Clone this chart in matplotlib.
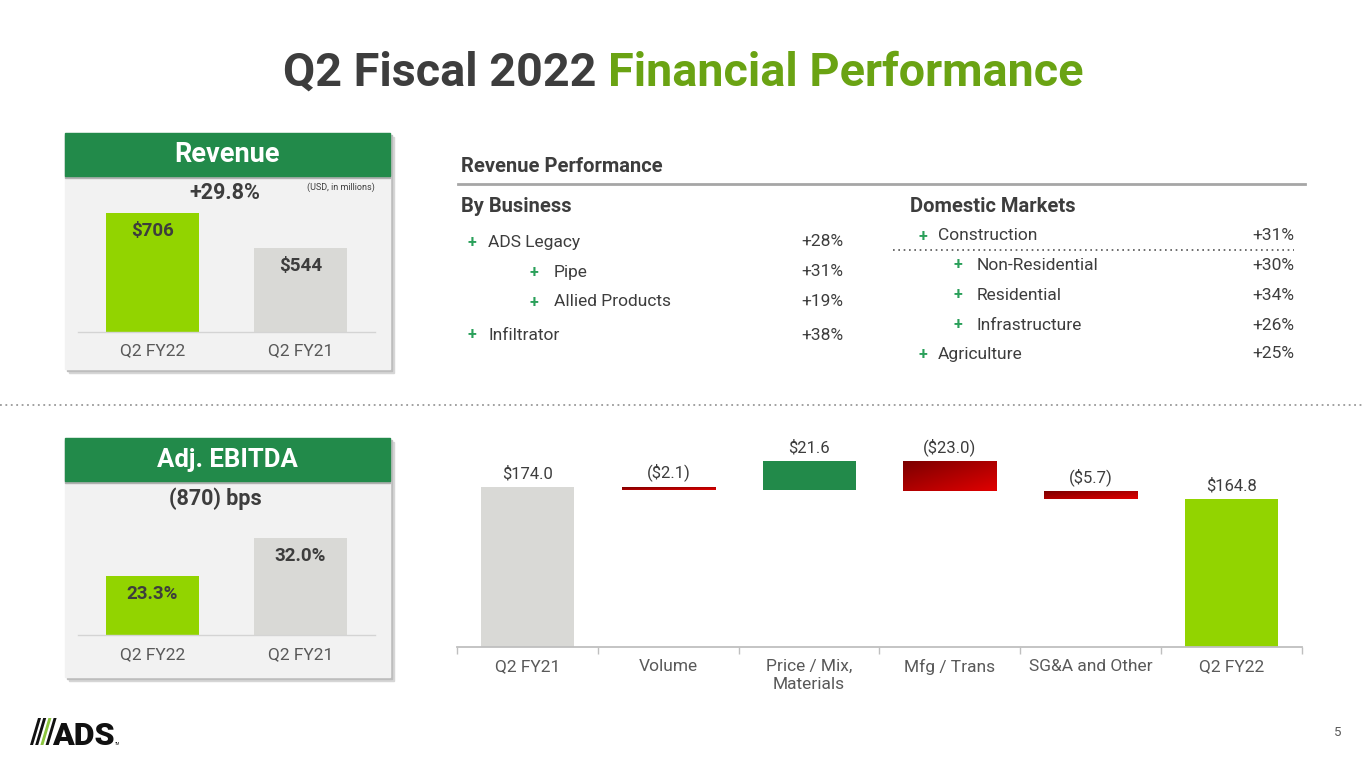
import matplotlib
matplotlib.use("Agg")
import matplotlib.pyplot as plt
import numpy as np
from matplotlib.patches import Rectangle, Polygon
from matplotlib.colors import LinearSegmentedColormap

W, H = 1365, 768
DPI = 100

# ---------------- data ----------------
rev_categories = ["Q2 FY22", "Q2 FY21"]
rev_values = [706, 544]
rev_labels = ["$706", "$544"]
rev_change = "+29.8%"
rev_unit = "(USD, in millions)"

ebitda_categories = ["Q2 FY22", "Q2 FY21"]
ebitda_values = [23.3, 32.0]
ebitda_labels = ["23.3%", "32.0%"]
ebitda_change = "(870) bps"

business_items = ["ADS Legacy", "Pipe", "Allied Products", "Infiltrator"]
business_growth = ["+28%", "+31%", "+19%", "+38%"]
business_level = [0, 1, 1, 0]

market_items = ["Construction", "Non-Residential", "Residential", "Infrastructure", "Agriculture"]
market_growth = ["+31%", "+30%", "+34%", "+26%", "+25%"]
market_level = [0, 1, 1, 1, 0]

wf_categories = ["Q2 FY21", "Volume", "Price / Mix,\nMaterials", "Mfg / Trans", "SG&A and Other", "Q2 FY22"]
wf_values = [174.0, -2.1, 21.6, -23.0, -5.7, 164.8]
wf_labels = ["$174.0", "($2.1)", "$21.6", "($23.0)", "($5.7)", "$164.8"]
wf_is_total = [True, False, False, False, False, True]

# ---------------- style ----------------
FONT = "Roboto"
plt.rcParams["font.family"] = [FONT, "DejaVu Sans"]
DARK = "#3d3d3d"
GTXT = "#595959"
HEAD_GREEN = "#228a4a"
TITLE_GREEN = "#6aa313"
LIME = "#92d400"
BAR_GRAY = "#d9d9d6"
PLUS_GREEN = "#2aa05a"
PANEL_BG = "#f2f2f2"

fig = plt.figure(figsize=(W / DPI, H / DPI), dpi=DPI)
bg = fig.add_axes([0, 0, 1, 1])
bg.set_xlim(0, W)
bg.set_ylim(H, 0)
bg.axis("off")


def px_axes(x0, y0, x1, y1):
    a = fig.add_axes([x0 / W, 1 - y1 / H, (x1 - x0) / W, (y1 - y0) / H])
    a.patch.set_alpha(0)
    return a


# ---------------- title ----------------
renderer = fig.canvas.get_renderer()
t1 = bg.text(0, 86, "Q2 Fiscal 2022", fontsize=30, fontweight="bold", color=DARK, va="baseline", ha="left")
t2 = bg.text(0, 86, "Financial Performance", fontsize=30, fontweight="bold", color=TITLE_GREEN, va="baseline", ha="left")
gap = 12
w1 = t1.get_window_extent(renderer).width
w2 = t2.get_window_extent(renderer).width
fs = 30 * (800 - gap) / (w1 + w2)
t1.set_fontsize(fs)
t2.set_fontsize(fs)
w1 = t1.get_window_extent(renderer).width
w2 = t2.get_window_extent(renderer).width
x_start = 683 - (w1 + gap + w2) / 2
t1.set_x(x_start)
t2.set_x(x_start + w1 + gap)

# ---------------- left panels ----------------
def panel(y0, y1, title, tfs):
    x0, x1 = 65, 390
    bg.add_patch(Rectangle((x0 + 4, y0 + 4), x1 - x0, y1 - y0, color="#d6d6d6", zorder=1))
    bg.add_patch(Rectangle((x0 + 2, y0 + 2), x1 - x0, y1 - y0, color="#bdbdbd", zorder=1.5))
    bg.add_patch(Rectangle((x0, y0), x1 - x0, y1 - y0, color=PANEL_BG, zorder=2))
    bg.add_patch(Rectangle((x0, y0 + 2), x1 - x0, 43, color="#b0b0b0", zorder=2.5))
    bg.add_patch(Rectangle((x0, y0), x1 - x0, 43, color=HEAD_GREEN, zorder=3))
    bg.text((x0 + x1) / 2, y0 + 22, title, color="white", fontsize=tfs, fontweight="bold",
            ha="center", va="center", zorder=4)


panel(133, 369, "Revenue", 19.5)
panel(438, 677, "Adj. EBITDA", 18.5)

bg.text(225, 193, rev_change, fontsize=15.5, fontweight="bold", color=DARK, ha="center", va="center", zorder=4)
bg.text(341, 187, rev_unit, fontsize=6.5, color=DARK, ha="center", va="center", zorder=4)
bg.text(215, 499, ebitda_change, fontsize=15.5, fontweight="bold", color=DARK, ha="center", va="center", zorder=4)


def small_bars(ax, cats, vals, labels, ymin, scale, top_px, base_px):
    colors = [LIME, BAR_GRAY]
    x = np.arange(len(cats))
    ax.bar(x, vals, width=93 / 148, color=colors, bottom=0, zorder=2)
    for xi, v, lab in zip(x, vals, labels):
        ax.annotate(lab, (xi, v), xytext=(0, -6.5), textcoords="offset points", ha="center", va="top",
                    fontsize=13.5, fontweight="bold", color=DARK)
    ax.set_xlim(-(152.5 - 78) / 148, 1 + (375 - 300.5) / 148)
    ax.set_ylim(ymin, ymin + (base_px - top_px) / scale)
    ax.set_xticks(x)
    ax.set_xticklabels(cats, fontsize=12.5, color=GTXT)
    ax.tick_params(axis="x", length=0, pad=8.5)
    ax.set_yticks([])
    for s in ["top", "left", "right"]:
        ax.spines[s].set_visible(False)
    ax.spines["bottom"].set_color("#d4d4d4")
    ax.spines["bottom"].set_linewidth(1)


ax_rev = px_axes(78, 200, 375, 331.5)
small_bars(ax_rev, rev_categories, rev_values, rev_labels, 153, 0.2141, 200, 331.5)
ax_eb = px_axes(78, 510, 375, 635)
small_bars(ax_eb, ebitda_categories, ebitda_values, ebitda_labels, 9.7, 4.368, 510, 635)

# ---------------- dotted separator ----------------
bg.plot([0, W], [405, 405], color="#9a9a9a", lw=1.3, ls=(0, (1, 2)))

# ---------------- revenue performance ----------------
bg.text(461, 167, "Revenue Performance", fontsize=14.5, fontweight="bold", color=DARK, va="center")
bg.plot([458, 1305], [184, 184], color="#a6a6a6", lw=2)
bg.text(461, 206, "By Business", fontsize=14.5, fontweight="bold", color=DARK, va="center")
bg.text(910, 206, "Domestic Markets", fontsize=14.5, fontweight="bold", color=DARK, va="center")

bus_rows = [242, 272, 302, 335]
for name, g, lvl, y in zip(business_items, business_growth, business_level, bus_rows):
    px = 472 if lvl == 0 else 534
    tx = 488 if lvl == 0 else 554
    bg.text(px, y, "+", fontsize=11.5, fontweight="bold", color=PLUS_GREEN, ha="center", va="center")
    bg.text(tx, y, name, fontsize=12.5, color=DARK, va="center")
    bg.text(843, y, g, fontsize=12.5, color=DARK, va="center", ha="right")

mkt_rows = [236, 265, 295, 325, 354]
for name, g, lvl, y in zip(market_items, market_growth, market_level, mkt_rows):
    px = 923 if lvl == 0 else 958
    tx = 938 if lvl == 0 else 977
    bg.text(px, y, "+", fontsize=11.5, fontweight="bold", color=PLUS_GREEN, ha="center", va="center")
    bg.text(tx, y, name, fontsize=12.5, color=DARK, va="center")
    bg.text(1294, y, g, fontsize=12.5, color=DARK, va="center", ha="right")
bg.plot([893, 1294], [250, 250], color="#555555", lw=1.2, ls=(0, (1, 2.2)))

# ---------------- waterfall ----------------
ax_wf = px_axes(457, 440, 1302, 646.7)
wf_ymin, wf_scale = 51, 1.3
red_cmap = LinearSegmentedColormap.from_list("reds", ["#7c0000", "#e00000"])
bw = 93 / 140.8
running = 0.0
for i, (v, lab, tot) in enumerate(zip(wf_values, wf_labels, wf_is_total)):
    if tot:
        bottom, top = 0, v
        color = BAR_GRAY if i == 0 else LIME
        ax_wf.bar(i, v, width=bw, color=color, zorder=2)
        running = v
    else:
        start = running
        end = running + v
        bottom, top = min(start, end), max(start, end)
        if v > 0:
            ax_wf.bar(i, top - bottom, bottom=bottom, width=bw, color=HEAD_GREEN, zorder=2)
        else:
            gx, gy = np.meshgrid(np.linspace(0, 1, 60), np.linspace(0, 1, 30))
            grad = (gx + gy) / 2
            ax_wf.imshow(grad, cmap=red_cmap, extent=(i - bw / 2, i + bw / 2, bottom, top),
                         aspect="auto", origin="upper", zorder=2)
        running = end
    ax_wf.annotate(lab, (i, top), xytext=(0, 4), textcoords="offset points", ha="center",
                   va="bottom", fontsize=12, color=DARK)

ax_wf.set_xlim(-0.5, len(wf_values) - 0.5)
ax_wf.set_ylim(wf_ymin, wf_ymin + (646.7 - 440) / wf_scale)
ax_wf.set_xticks(np.arange(len(wf_values)))
ax_wf.set_xticklabels(wf_categories, fontsize=12.5, color=GTXT, linespacing=1.2)
ax_wf.set_xticks(np.arange(len(wf_values) + 1) - 0.5, minor=True)
ax_wf.tick_params(axis="x", which="major", length=0, pad=9)
ax_wf.tick_params(axis="x", which="minor", length=5, color="#bfbfbf", width=1)
ax_wf.set_yticks([])
for s in ["top", "left", "right"]:
    ax_wf.spines[s].set_visible(False)
ax_wf.spines["bottom"].set_color("#bfbfbf")
ax_wf.spines["bottom"].set_linewidth(1.3)

# ---------------- footer ----------------
bg.text(1338, 733, "5", fontsize=9.5, color=GTXT, ha="center", va="center")
slash_cols = ["#111111", "#111111", "#8cc63f", "#111111"]
for k, c in enumerate(slash_cols):
    xb = 30 + k * 5.2
    bg.add_patch(Polygon([[xb, 745], [xb + 3, 745], [xb + 11, 718], [xb + 8, 718]], closed=True, color=c, lw=0))
bg.text(52, 745, "ADS", fontsize=23, fontweight="heavy", color="#111111", ha="left", va="baseline",
        family=["Roboto", "DejaVu Sans"])
bg.text(115, 745, "TM", fontsize=2.5, color="#111111", ha="left", va="baseline")

fig.savefig("out.png", dpi=DPI)
